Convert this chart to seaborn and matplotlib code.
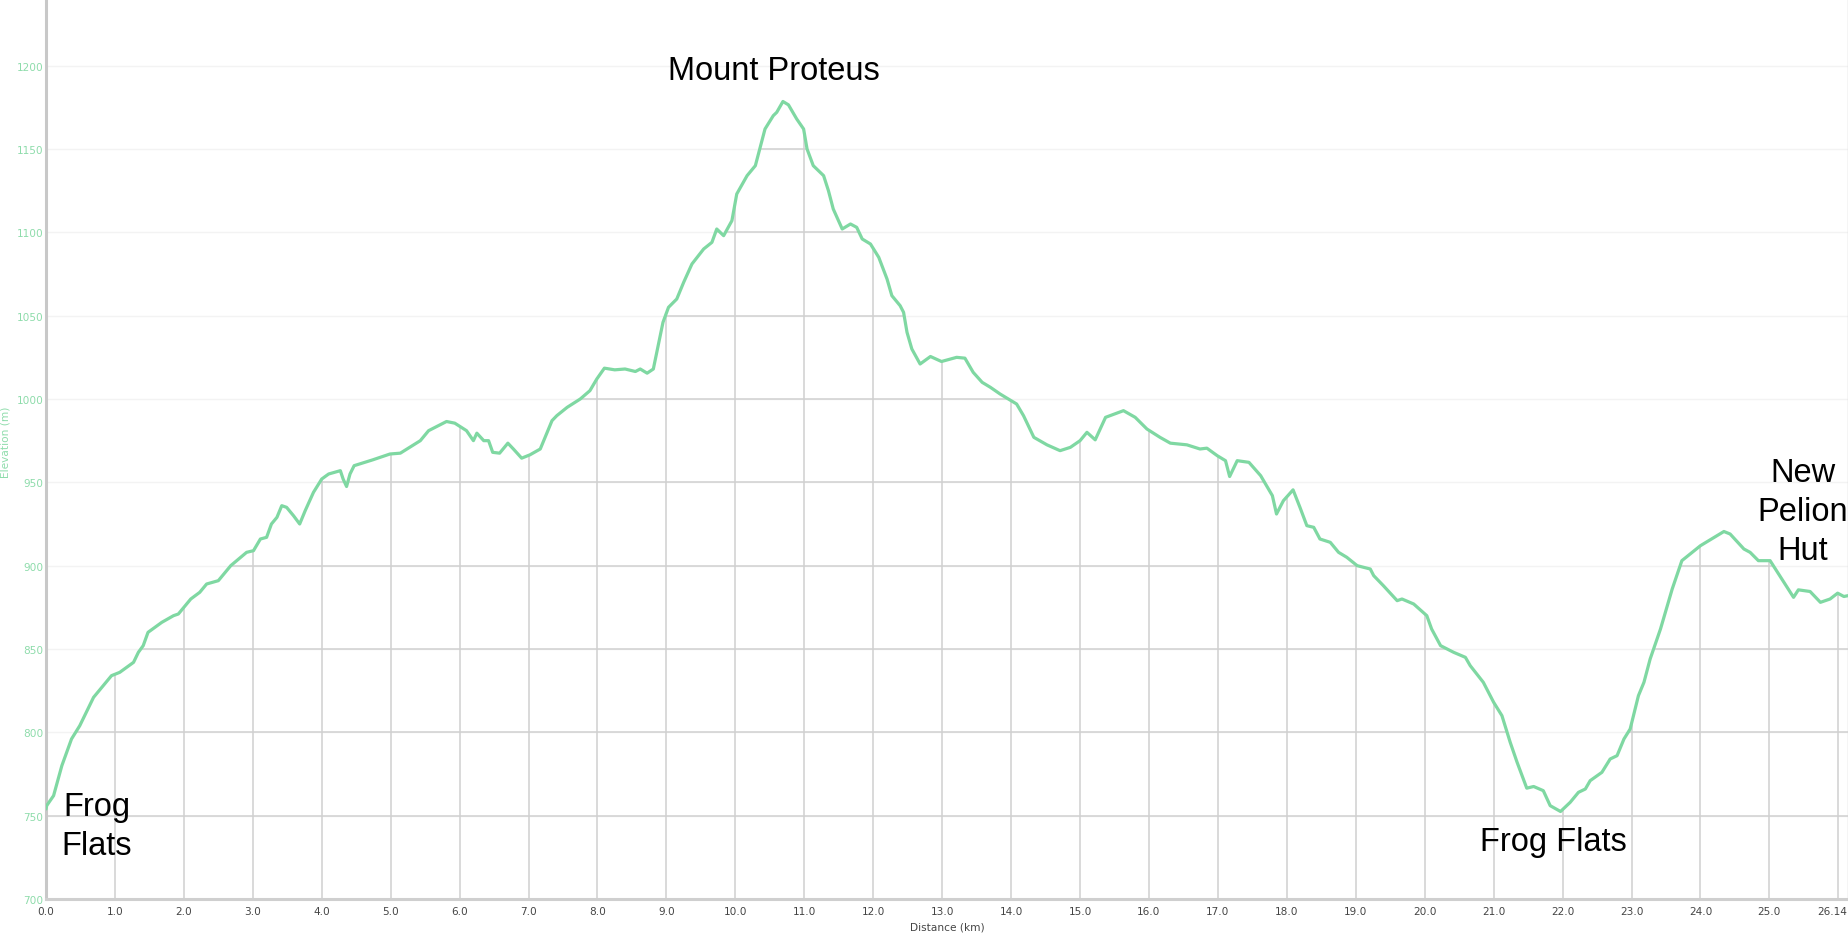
import numpy as np
import pandas as pd
import matplotlib
matplotlib.use("Agg")
import matplotlib.pyplot as plt
from matplotlib.patches import Polygon
from matplotlib.transforms import ScaledTranslation
import seaborn as sns

# ---------------- data ----------------
distance_km = [
    0.00, 0.01, 0.11, 0.23, 0.37, 0.49, 0.69, 0.81, 0.95, 1.07, 1.27, 1.34, 1.41, 1.48,
    1.68, 1.85, 1.92, 2.10, 2.23, 2.33, 2.50, 2.68, 2.91, 3.01, 3.11, 3.20, 3.27, 3.35,
    3.42, 3.49, 3.59, 3.68, 3.76, 3.88, 4.00, 4.10, 4.27, 4.31, 4.36, 4.41, 4.47, 4.74,
    4.99, 5.14, 5.43, 5.55, 5.81, 5.93, 6.10, 6.20, 6.25, 6.35, 6.42, 6.48, 6.58, 6.70,
    6.78, 6.90, 7.02, 7.17, 7.34, 7.41, 7.56, 7.75, 7.89, 7.99, 8.10, 8.25, 8.40, 8.55,
    8.62, 8.72, 8.81, 8.88, 8.95, 9.03, 9.15, 9.25, 9.37, 9.54, 9.66, 9.73, 9.83, 9.95,
    10.02, 10.17, 10.29, 10.43, 10.55, 10.60, 10.69, 10.77, 10.89, 10.99, 11.04, 11.13,
    11.28, 11.35, 11.42, 11.55, 11.67, 11.76, 11.84, 11.96, 12.08, 12.20, 12.27, 12.39,
    12.44, 12.49, 12.56, 12.68, 12.83, 12.99, 13.21, 13.33, 13.45, 13.58, 13.70, 13.84,
    14.08, 14.18, 14.33, 14.52, 14.71, 14.86, 15.00, 15.10, 15.22, 15.37, 15.63, 15.80,
    15.97, 16.16, 16.31, 16.55, 16.74, 16.84, 16.99, 17.11, 17.17, 17.28, 17.45, 17.62,
    17.79, 17.85, 17.95, 18.09, 18.19, 18.29, 18.39, 18.48, 18.63, 18.75, 18.87, 19.02,
    19.21, 19.26, 19.40, 19.60, 19.67, 19.84, 20.03, 20.10, 20.23, 20.42, 20.59, 20.66,
    20.85, 21.00, 21.12, 21.24, 21.34, 21.48, 21.58, 21.72, 21.82, 21.97, 22.11, 22.23,
    22.33, 22.40, 22.57, 22.69, 22.79, 22.89, 22.98, 23.10, 23.18, 23.27, 23.42, 23.59,
    23.73, 24.00, 24.12, 24.34, 24.43, 24.63, 24.72, 24.84, 25.01, 25.18, 25.35, 25.42,
    25.59, 25.74, 25.88, 25.99, 26.08, 26.14,
]
elevation_m = [
    754, 756, 762, 780, 796, 804, 821, 827, 834, 836, 842, 848, 852, 860,
    866, 870, 871, 880, 884, 889, 891, 900, 908, 909, 916, 917, 925, 929,
    936, 935, 930, 925, 933, 944, 952, 955, 957, 952, 947.5, 955, 960, 963.5,
    967, 967.5, 975, 981, 986.5, 985.5, 981, 975, 979.5, 975, 975, 968, 967.5, 973.5,
    970, 964.5, 966.5, 970, 987, 990, 995, 1000, 1005, 1012, 1018.5, 1017.5, 1018, 1016.5,
    1018, 1015.5, 1018, 1032, 1046, 1055, 1060, 1070, 1081, 1090, 1094, 1102, 1098, 1107,
    1123, 1134, 1140, 1162, 1170, 1172, 1178.5, 1176.5, 1168, 1162, 1150, 1140,
    1134, 1125, 1114, 1102, 1105, 1103, 1096, 1093, 1085, 1072, 1062, 1056,
    1052, 1040, 1030, 1021, 1025.5, 1022.5, 1025, 1024.5, 1016, 1010, 1007, 1003,
    997, 990, 977, 972.5, 969, 971, 975, 980, 975.5, 989, 993, 989,
    982, 977, 973.5, 972.5, 970, 970.5, 966, 963, 953.5, 963, 962, 954,
    942, 931, 939, 945.5, 935, 924, 923, 916, 914, 908, 905, 900,
    898, 894, 888, 879, 880, 877, 870, 862, 852, 848, 845, 840,
    830, 818, 810, 794, 782, 766.5, 767.5, 765, 756, 752.5, 758, 764,
    766, 771, 776, 784, 786, 796, 802, 822, 830, 844, 862, 886,
    903, 912, 915, 920.5, 919, 910, 908, 903, 903, 892, 881, 885.5,
    884.5, 878, 880, 883.5, 881.5, 882,
]

x_ticks = list(range(0, 27))
x_tick_labels = [f"{v:.1f}" for v in range(0, 26)] + ["26.14"]
y_ticks = [700, 750, 800, 850, 900, 950, 1000, 1050, 1100, 1150, 1200]

place_names = ["Mount Proteus", "Frog\nFlats", "Frog Flats", "New\nPelion\nHut"]
place_x = [10.56, 0.74, 21.87, 25.48]
place_y = [1197, 744, 734.5, 932.5]

x_min, x_max = 0.0, 26.14
y_min, y_max = 700, 1240

# ---------------- style ----------------
sns.set_style("white")
plt.rcParams["font.family"] = ["DejaVu Sans"]

LINE = "#7fd8a2"
GRID_UNDER = "#d0d0d0"
GRID_FAINT = "#f3f3f3"
YTICK = "#8edcab"
XTICK = "#454545"

W, H = 1849, 937
fig = plt.figure(figsize=(W / 100, H / 100), dpi=100)
ax = fig.add_axes([46 / W, 37 / H, 1802 / W, 900 / H])

df = pd.DataFrame({"Distance (km)": distance_km, "Elevation (m)": elevation_m})

ax.set_xlim(x_min, x_max)
ax.set_ylim(y_min, y_max)

# faint horizontal grid everywhere
for yv in y_ticks[1:]:
    ax.axhline(yv, color=GRID_FAINT, lw=1.0, zorder=0)

# area under the profile used to clip the darker grid
verts = np.column_stack([
    [distance_km[0]] + distance_km + [distance_km[-1]],
    [y_min] + elevation_m + [y_min],
])
under = Polygon(verts, closed=True, facecolor="none", edgecolor="none",
                transform=ax.transData)
ax.add_patch(under)

for yv in y_ticks[1:]:
    ln = ax.axhline(yv, color=GRID_UNDER, lw=1.1, zorder=1)
    ln.set_clip_path(under)
for xv in x_ticks[1:]:
    ln = ax.axvline(xv, color=GRID_UNDER, lw=1.1, zorder=1)
    ln.set_clip_path(under)

sns.lineplot(data=df, x="Distance (km)", y="Elevation (m)", ax=ax, color=LINE,
             lw=2.3, estimator=None, sort=False, zorder=3)

# spines
ax.spines["top"].set_visible(False)
ax.spines["left"].set_color("#c8c8c8")
ax.spines["left"].set_linewidth(2.2)
ax.spines["bottom"].set_color("#cfcfcf")
ax.spines["bottom"].set_linewidth(2.2)
ax.spines["right"].set_color("#d0d0d0")
ax.spines["right"].set_linewidth(1.0)

ax.set_xticks(x_ticks)
ax.set_xticklabels(x_tick_labels)
ax.set_yticks(y_ticks)
ax.set_yticklabels([str(v) for v in y_ticks])
ax.tick_params(axis="x", length=0, pad=5, labelsize=7.6, labelcolor=XTICK)
ax.tick_params(axis="y", length=0, pad=2, labelsize=7.6, labelcolor=YTICK)

# keep the last distance label inside the picture
last = ax.get_xticklabels()[-1]
last.set_transform(last.get_transform() + ScaledTranslation(-6 / 100, 0, fig.dpi_scale_trans))

ax.set_xlabel("Distance (km)", fontsize=7.6, color=XTICK)
ax.xaxis.set_label_coords(0.5, -(928 - 900) / 900)
ax.xaxis.label.set_va("center")
ax.set_ylabel("Elevation (m)", fontsize=7.6, color=YTICK)
ax.yaxis.set_label_coords((6 - 46) / 1802, (900 - 442) / 900)
ax.yaxis.label.set_va("center")

for name, px, py in zip(place_names, place_x, place_y):
    ax.text(px, py, name, ha="center", va="center", fontsize=23.5,
            family=["Liberation Sans", "DejaVu Sans"], color="black",
            linespacing=1.34, zorder=5, clip_on=False)

fig.savefig("out.png", dpi=100, facecolor="white")
